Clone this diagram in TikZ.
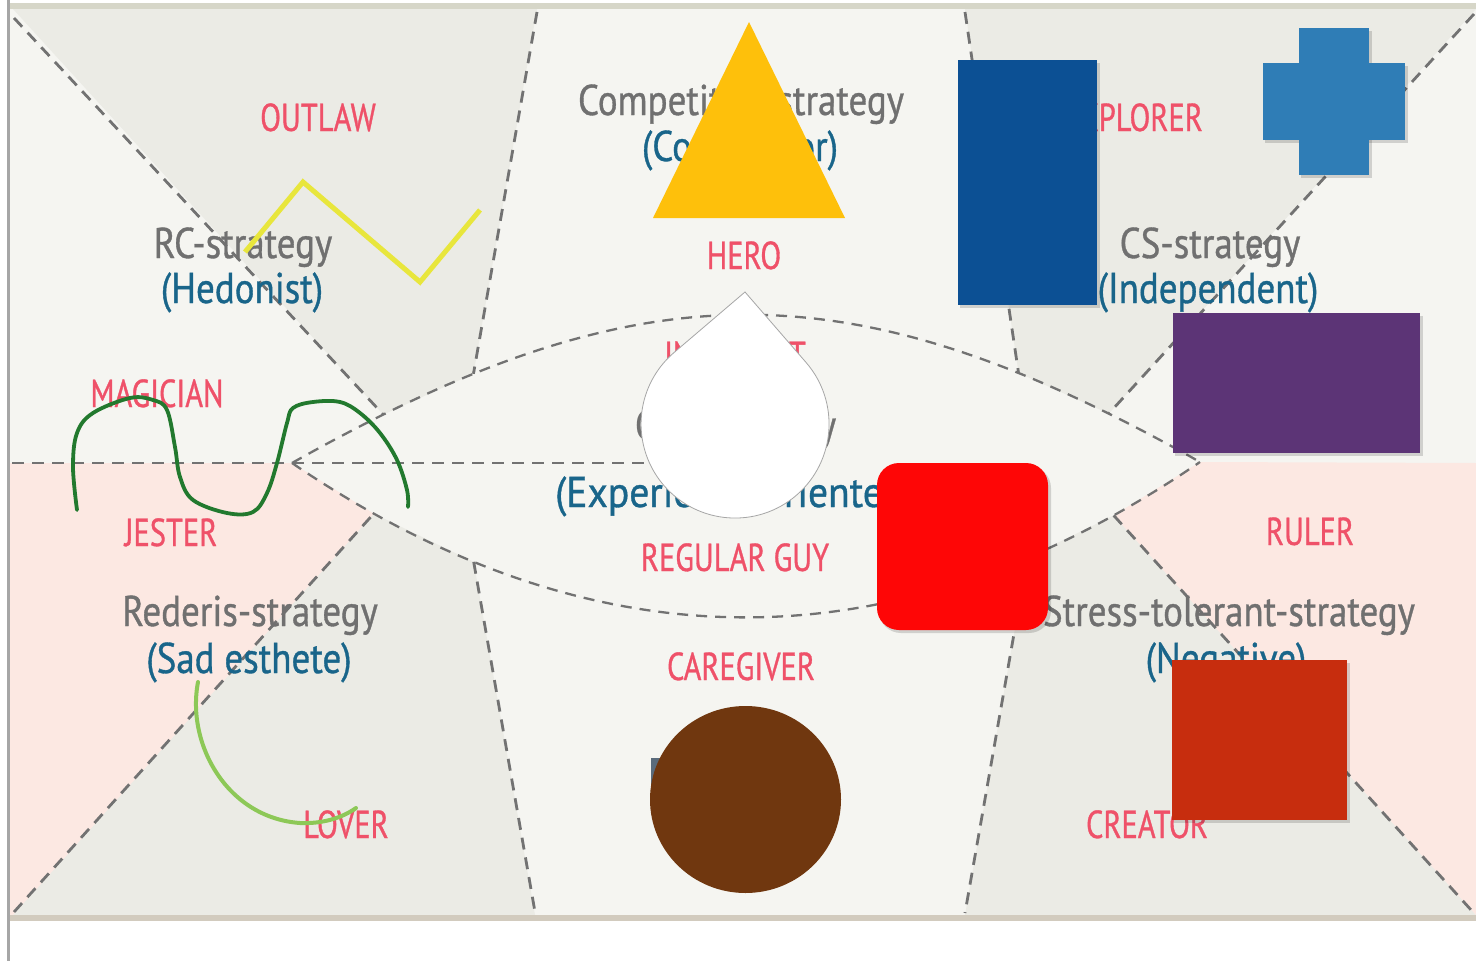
\documentclass[tikz,border=0pt]{standalone}
\usepackage{fontspec}
\newfontfamily\nfl[FakeStretch=0.78,FakeBold=0.8]{PT Sans}
\newfontfamily\nfs[FakeStretch=0.86,FakeBold=0.8]{PT Sans}
\definecolor{offw}{HTML}{F5F5F1}
\definecolor{greyr}{HTML}{EBEBE5}
\definecolor{pinkr}{HTML}{FCE8E2}
\definecolor{dashc}{HTML}{727272}
\definecolor{labc}{HTML}{EF5169}
\definecolor{stratc}{HTML}{707070}
\definecolor{subc}{HTML}{19658A}
\definecolor{topb}{HTML}{D6D6C8}
\definecolor{botb}{HTML}{D2CBBE}
\definecolor{leftb}{HTML}{A6A6A6}
\definecolor{yel}{HTML}{E8E63C}
\definecolor{tri}{HTML}{FEC00B}
\definecolor{dblue}{HTML}{0C5094}
\definecolor{crossc}{HTML}{2F7DB6}
\definecolor{purp}{HTML}{5C3476}
\definecolor{redc}{HTML}{FE0606}
\definecolor{brownc}{HTML}{70370F}
\definecolor{rbrown}{HTML}{C72D0E}
\definecolor{dgreen}{HTML}{22792E}
\definecolor{lgreen}{HTML}{8DC857}
\definecolor{hidc}{HTML}{5A6B7B}
\begin{document}
\begin{tikzpicture}[x=1pt,y=-1pt,
  dline/.style={draw=dashc, line width=2.8pt, dash pattern=on 12pt off 8pt},
  lline/.style={draw=dashc, line width=2.3pt, dash pattern=on 11pt off 8pt},
  lab/.style={text=labc, font=\nfl\fontsize{39}{44}\selectfont, anchor=base, inner sep=0pt},
  strat/.style={text=stratc, font=\nfs\fontsize{43}{48}\selectfont, anchor=base, inner sep=0pt},
  sub/.style={text=subc, font=\nfs\fontsize{43}{48}\selectfont, anchor=base, inner sep=0pt},
  shad/.style={fill=black, opacity=0.15},
]
\useasboundingbox (0,0) rectangle (1476,961);
\fill[white] (0,0) rectangle (1476,961);
\fill[offw] (10,9) rectangle (1476,915);
% lens
\path (292,463) coordinate (LT) (1200,462) coordinate (RT);
\path (LT) .. controls (642,266) and (850,265) .. (RT)
  coordinate[pos=0.09] (A1) coordinate[pos=0.185] (A2)
  coordinate[pos=0.815] (A3) coordinate[pos=0.91] (A4);
\path (LT) .. controls (595,669) and (897,669) .. (RT)
  coordinate[pos=0.09] (B1) coordinate[pos=0.2] (B2)
  coordinate[pos=0.81] (B3) coordinate[pos=0.905] (B4);
% region fills
\fill[greyr] (13,9) -- (537,9) -- (A2) -- (A1) -- cycle;
\fill[greyr] (965,9) -- (1476,9) -- (A4) -- (A3) -- cycle;
\fill[greyr] (B1) -- (B2) -- (535,915) -- (13,915) -- cycle;
\fill[greyr] (B3) -- (B4) -- (1476,915) -- (965,915) -- cycle;
\fill[pinkr] (10,463) -- (LT) -- (B1) -- (13,915) -- (10,915) -- cycle;
\fill[pinkr] (RT) -- (1476,463) -- (1476,915) -- (B4) -- cycle;
% borders
\fill[topb] (10,3) rectangle (1476,9);
\fill[botb] (10,915) rectangle (1476,921);
\fill[leftb] (7,0) rectangle (10,961);
% dashed lines
\draw[dline] (14,18) -- (A1);
\draw[dline] (537,12) -- (A2);
\draw[dline] (965,12) -- (A3);
\draw[dline] (1474,14) -- (A4);
\draw[dline] (14,912) -- (B1);
\draw[dline] (B2) -- (535,912);
\draw[dline] (B3) -- (965,913);
\draw[dline] (B4) -- (1472,911);
\draw[dline] (12,463) -- (700,463);
\draw[lline] (LT) .. controls (642,266) and (850,265) .. (RT);
\draw[lline] (LT) .. controls (595,669) and (897,669) .. (RT);
% texts
\node[lab] (outlaw) at (318,131) {OUTLAW};
\node[strat] (rc) at (243,258) {RC-strategy};
\node[sub] (hed) at (242,303) {(Hedonist)};
\node[lab] (mag) at (157,407) {MAGICIAN};
\node[lab] (jes) at (171,546) {JESTER};
\node[strat] (rede) at (250,626) {Rederis-strategy};
\node[sub] (sad) at (249,673) {(Sad esthete)};
\node[lab] (lov) at (346,838) {LOVER};
\node[strat] (comp) at (741,115) {Competitive strategy};
\node[sub] (compt) at (740,161) {(Competitor)};
\node[lab] (hero) at (744,269) {HERO};
\node[lab] (inno) at (735,369) {INNOCENT};
\node[strat] (csr) at (735.5,440) {CSR-strategy};
\node[sub, anchor=base west] (expo) at (555,507) {\scalebox{1.07}[1]{(Experience oriented)}};
\node[lab] (reg) at (735,571) {REGULAR GUY};
\node[lab] (care) at (741,680) {CAREGIVER};
\node[lab, anchor=base east] (expl) at (1203,131) {EXPLORER};
\node[strat] (cs) at (1210,258) {CS-strategy};
\node[sub] (ind) at (1208,303) {(Independent)};
\node[lab] (rul) at (1310,545) {RULER};
\node[strat] (st) at (1229,626) {Stress-tolerant-strategy};
\node[sub] (neg) at (1226,673) {(Negative)};
\node[lab] (cre) at (1147,838) {CREATOR};
\fill[hidc] (651,758) rectangle (700,800);
% shapes
\draw[yel, line width=5pt] (245,252) -- (303,182) -- (420,282) -- (480,210);
\fill[tri] (749,22) -- (845,218) -- (653,218) -- cycle;
\fill[shad] (960,63) rectangle (1100,308);
\fill[dblue] (958,60) rectangle (1097,305);
\fill[shad] (1301,31) rectangle (1372,178);
\fill[shad] (1265,66) rectangle (1408,143);
\fill[crossc] (1299,28) rectangle (1369,175);
\fill[crossc] (1263,63) rectangle (1405,140);
\fill[shad] (1175,316) rectangle (1423,456);
\fill[purp] (1173,313) rectangle (1420,453);
\draw[fill=white, draw=gray!70, line width=0.8pt] (745,292) -- (806.1,362.5)
  arc[start angle=-40.9, end angle=229.5, radius=94] -- cycle;
\fill[shad, rounded corners=22pt] (879,466) rectangle (1051,633);
\fill[redc, rounded corners=22pt] (877,463) rectangle (1048,630);
\fill[brownc] (745.5,799.5) ellipse [x radius=95.5, y radius=93.5];
\fill[shad] (1174,663) rectangle (1350,823);
\fill[rbrown] (1172,660) rectangle (1347,820);
\draw[dgreen, line width=3.8pt, line cap=round, line join=round]
  plot[smooth, tension=0.6] coordinates {(77,510) (73,467) (77,433) (93,413) (130,398) (153,400) (167,410) (175,447) (180,477) (193,500) (227,513) (253,512) (267,493) (277,463) (287,423) (293,408) (313,402) (340,402) (360,413) (380,433) (397,460) (407,490) (408,507)};
\draw[lgreen, line width=4pt, line cap=round]
  (198,682) .. controls (186,745) and (228,818) .. (300,823)
  .. controls (322,824) and (342,818) .. (356,808);
\end{tikzpicture}
\end{document}
